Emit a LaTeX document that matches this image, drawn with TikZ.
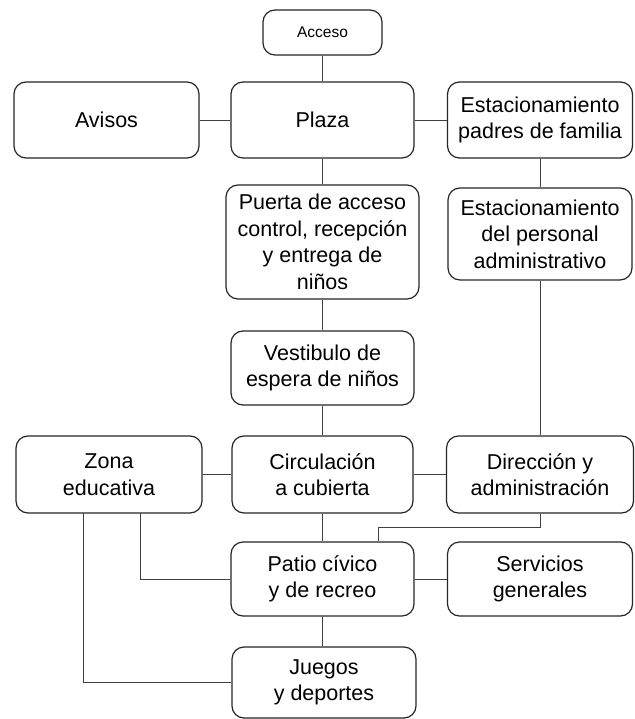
\documentclass[tikz,border=0pt]{standalone}
\usepackage{fontspec}
\setmainfont{Liberation Sans}
\begin{document}
\begin{tikzpicture}[x=1pt,y=-1pt,
  box/.style={draw=black!85, line width=1.2pt, rounded corners=12pt, align=center,
    font=\fontsize{21.5}{26.5}\selectfont, inner sep=0pt},
  conn/.style={draw=black!75, line width=0.9pt}]
\useasboundingbox (0,0) rectangle (634,719);
\fill[white] (0,0) rectangle (634,719);
% nodes
\node[box, minimum width=119pt, minimum height=45pt, font=\fontsize{15.5}{19}\selectfont] (acceso) at (322.5,32.5) {Acceso};
\node[box, minimum width=185pt, minimum height=76pt] (avisos) at (106.5,120) {Avisos};
\node[box, minimum width=183pt, minimum height=76pt] (plaza) at (322.5,120) {Plaza};
\node[box, minimum width=185pt, minimum height=76pt] (estpad) at (540,120) {Estacionamiento\\padres de familia};
\node[box, minimum width=193pt, minimum height=114pt] (puerta) at (322.5,242) {Puerta de acceso\\control, recepción\\y entrega de\\niños};
\node[box, minimum width=184pt, minimum height=92pt] (estper) at (540,234) {Estacionamiento\\del personal\\administrativo};
\node[box, minimum width=183pt, minimum height=74pt] (vest) at (322.5,368) {Vestibulo de\\espera de niños};
\node[box, minimum width=186pt, minimum height=77pt] (zona) at (109,474.5) {Zona\\educativa};
\node[box, minimum width=181pt, minimum height=77pt] (circ) at (322.5,474.5) {Circulación\\a cubierta};
\node[box, minimum width=187pt, minimum height=77pt] (direc) at (540,474.5) {Dirección y\\administración};
\node[box, minimum width=183pt, minimum height=74pt] (patio) at (322.5,579) {Patio cívico\\y de recreo};
\node[box, minimum width=185pt, minimum height=74pt] (serv) at (540,579) {Servicios\\generales};
\node[box, minimum width=184pt, minimum height=71pt] (juegos) at (324,682.5) {Juegos\\y deportes};
% helper coordinates
\coordinate (dturn) at (540,527);
\coordinate (pin) at (378,527);
\coordinate (z1) at (140,513);
\coordinate (z2) at (83,513);
% connectors
\draw[conn] (acceso) -- (plaza);
\draw[conn] (plaza) -- (puerta);
\draw[conn] (puerta) -- (vest);
\draw[conn] (vest) -- (circ);
\draw[conn] (circ) -- (patio);
\draw[conn] (patio.south) -- (patio.south |- juegos.north);
\draw[conn] (avisos) -- (plaza);
\draw[conn] (plaza) -- (estpad);
\draw[conn] (estpad) -- (estper);
\draw[conn] (estper) -- (direc);
\draw[conn] (zona.east |- circ.west) -- (circ.west);
\draw[conn] (circ) -- (direc);
\draw[conn] (patio) -- (serv);
\draw[conn] (direc.south) -- (dturn) -- (pin) -- (pin |- patio.north);
\draw[conn] (z1) |- (patio.west);
\draw[conn] (z2) |- (juegos.west);
\end{tikzpicture}
\end{document}
